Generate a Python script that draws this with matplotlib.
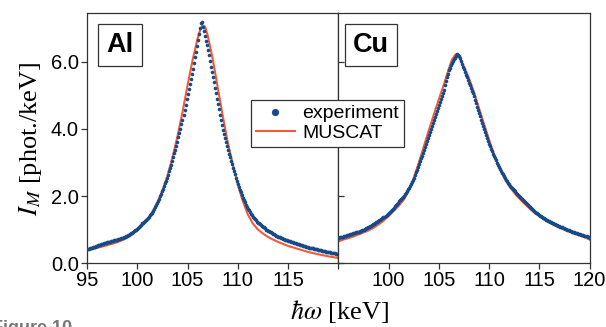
import numpy as np
import matplotlib
matplotlib.use("Agg")
import matplotlib.pyplot as plt

# energy grid of the measured points (keV), 0.1 keV steps
energy = np.round(np.arange(95.0, 120.05, 0.1), 1)

al_experiment = [
    0.42, 0.43, 0.42, 0.44, 0.45, 0.46, 0.47, 0.48, 0.49, 0.50,
    0.52, 0.53, 0.54, 0.55, 0.56, 0.57, 0.58, 0.59, 0.60, 0.61,
    0.62, 0.63, 0.64, 0.64, 0.66, 0.66, 0.67, 0.68, 0.69, 0.69,
    0.70, 0.71, 0.72, 0.73, 0.74, 0.75, 0.76, 0.78, 0.79, 0.80,
    0.82, 0.83, 0.85, 0.87, 0.89, 0.91, 0.93, 0.95, 0.98, 1.00,
    1.02, 1.05, 1.08, 1.11, 1.14, 1.18, 1.20, 1.23, 1.26, 1.29,
    1.32, 1.35, 1.38, 1.42, 1.46, 1.50, 1.55, 1.61, 1.66, 1.72,
    1.78, 1.85, 1.91, 1.99, 2.07, 2.15, 2.22, 2.30, 2.38, 2.46,
    2.55, 2.64, 2.74, 2.84, 2.94, 3.05, 3.16, 3.27, 3.38, 3.50,
    3.62, 3.75, 3.88, 4.01, 4.14, 4.27, 4.42, 4.57, 4.73, 4.89,
    5.05, 5.20, 5.35, 5.50, 5.65, 5.80, 5.97, 6.14, 6.31, 6.48,
    6.65, 6.85, 7.02, 7.15, 7.18, 7.05, 6.92, 6.78, 6.64, 6.50,
    6.36, 6.20, 6.03, 5.86, 5.70, 5.55, 5.39, 5.23, 5.07, 4.91,
    4.75, 4.59, 4.43, 4.27, 4.12, 3.98, 3.85, 3.72, 3.60, 3.48,
    3.37, 3.26, 3.16, 3.05, 2.95, 2.85, 2.75, 2.65, 2.55, 2.45,
    2.35, 2.27, 2.19, 2.11, 2.03, 1.95, 1.88, 1.81, 1.74, 1.68,
    1.62, 1.57, 1.52, 1.47, 1.42, 1.38, 1.34, 1.30, 1.27, 1.23,
    1.20, 1.18, 1.15, 1.13, 1.10, 1.07, 1.06, 1.03, 1.00, 0.98,
    0.96, 0.95, 0.93, 0.92, 0.89, 0.87, 0.87, 0.84, 0.82, 0.82,
    0.79, 0.78, 0.77, 0.76, 0.74, 0.72, 0.72, 0.70, 0.69, 0.68,
    0.66, 0.65, 0.65, 0.63, 0.62, 0.62, 0.60, 0.59, 0.59, 0.57,
    0.56, 0.56, 0.54, 0.54, 0.53, 0.52, 0.52, 0.50, 0.49, 0.49,
    0.47, 0.46, 0.46, 0.45, 0.44, 0.44, 0.42, 0.42, 0.41, 0.41,
    0.40, 0.39, 0.38, 0.38, 0.37, 0.36, 0.36, 0.35, 0.34, 0.34,
    0.33, 0.32, 0.32, 0.31, 0.31, 0.30, 0.29, 0.29, 0.28, 0.28,
    0.27,
]

cu_experiment = [
    0.75, 0.76, 0.77, 0.78, 0.78, 0.79, 0.80, 0.81, 0.82, 0.83,
    0.84, 0.85, 0.86, 0.88, 0.88, 0.89, 0.90, 0.91, 0.92, 0.92,
    0.93, 0.94, 0.96, 0.96, 0.98, 0.99, 1.00, 1.02, 1.03, 1.05,
    1.06, 1.08, 1.10, 1.11, 1.13, 1.15, 1.17, 1.19, 1.21, 1.23,
    1.25, 1.27, 1.29, 1.32, 1.34, 1.36, 1.38, 1.41, 1.43, 1.46,
    1.48, 1.51, 1.55, 1.58, 1.62, 1.65, 1.69, 1.72, 1.76, 1.80,
    1.84, 1.87, 1.90, 1.94, 1.97, 2.00, 2.05, 2.10, 2.15, 2.20,
    2.25, 2.31, 2.37, 2.43, 2.49, 2.55, 2.63, 2.71, 2.79, 2.87,
    2.95, 3.03, 3.12, 3.20, 3.29, 3.37, 3.46, 3.55, 3.64, 3.73,
    3.82, 3.91, 4.00, 4.09, 4.18, 4.27, 4.36, 4.45, 4.54, 4.63,
    4.72, 4.81, 4.90, 4.99, 5.07, 5.16, 5.30, 5.42, 5.55, 5.65,
    5.75, 5.83, 5.90, 5.97, 6.03, 6.08, 6.13, 6.18, 6.24, 6.22,
    6.18, 6.11, 6.02, 5.94, 5.86, 5.78, 5.70, 5.62, 5.54, 5.46,
    5.38, 5.30, 5.22, 5.14, 5.06, 4.98, 4.88, 4.78, 4.67, 4.57,
    4.47, 4.38, 4.28, 4.19, 4.09, 4.00, 3.91, 3.82, 3.73, 3.64,
    3.55, 3.48, 3.40, 3.33, 3.25, 3.18, 3.12, 3.06, 2.99, 2.93,
    2.87, 2.81, 2.76, 2.70, 2.65, 2.59, 2.54, 2.49, 2.44, 2.40,
    2.35, 2.31, 2.28, 2.24, 2.21, 2.17, 2.14, 2.10, 2.07, 2.03,
    2.00, 1.97, 1.94, 1.91, 1.88, 1.85, 1.82, 1.79, 1.76, 1.73,
    1.70, 1.67, 1.64, 1.61, 1.58, 1.55, 1.53, 1.50, 1.48, 1.45,
    1.43, 1.41, 1.39, 1.37, 1.35, 1.33, 1.31, 1.29, 1.28, 1.26,
    1.24, 1.22, 1.21, 1.19, 1.18, 1.16, 1.15, 1.14, 1.12, 1.11,
    1.10, 1.08, 1.07, 1.06, 1.04, 1.03, 1.02, 1.01, 1.00, 0.99,
    0.98, 0.97, 0.95, 0.94, 0.93, 0.92, 0.91, 0.90, 0.89, 0.88,
    0.87, 0.86, 0.85, 0.84, 0.83, 0.82, 0.81, 0.80, 0.78, 0.77,
    0.76,
]

# MUSCAT simulation curves
al_model_e = [95, 96, 97, 98, 99, 100, 100.5, 101, 101.5, 102, 102.5, 103, 103.5,
              104, 104.5, 105, 105.5, 106, 106.25, 106.5, 106.75, 107, 107.5, 108,
              108.5, 109, 109.5, 110, 110.5, 111, 111.5, 112, 112.5, 113, 113.5,
              114, 115, 116, 117, 118, 119, 120]
al_model = [0.38, 0.45, 0.53, 0.62, 0.75, 0.97, 1.12, 1.30, 1.52, 1.80, 2.16, 2.60, 3.15,
            3.78, 4.50, 5.30, 6.05, 6.70, 6.95, 7.10, 7.05, 6.80, 6.10, 5.25,
            4.40, 3.60, 2.95, 2.35, 1.85, 1.45, 1.18, 1.00, 0.88, 0.78, 0.70,
            0.63, 0.51, 0.42, 0.33, 0.26, 0.20, 0.15]

cu_model_e = [95, 95.5, 96, 96.5, 97, 97.5, 98, 98.5, 99, 99.5, 100, 100.5, 101, 101.5,
              102, 102.5, 103, 103.5, 104, 104.5, 105, 105.5, 106, 106.3, 106.6, 106.75,
              107, 107.5, 108, 108.5, 109, 109.5, 110, 110.5, 111, 111.5, 112, 112.5,
              113, 113.5, 114, 114.5, 115, 115.5, 116, 116.5, 117, 117.5, 118, 118.5,
              119, 119.5, 120]
cu_model = [0.64, 0.70, 0.74, 0.79, 0.85, 0.91, 0.97, 1.05, 1.15, 1.26, 1.40, 1.55, 1.70, 1.88,
            2.15, 2.52, 2.98, 3.47, 3.95, 4.42, 4.88, 5.32, 5.80, 6.06, 6.20, 6.24,
            6.16, 5.86, 5.52, 5.10, 4.62, 4.15, 3.68, 3.24, 2.86, 2.55, 2.30, 2.10,
            1.93, 1.78, 1.64, 1.51, 1.40, 1.30, 1.21, 1.13, 1.06, 1.00, 0.94, 0.88,
            0.83, 0.77, 0.70]

panels = ["Al", "Cu"]
x_ticks_left = [95, 100, 105, 110, 115, 120]
x_labels_left = ["95", "100", "105", "110", "115", ""]
x_ticks_right = [100, 105, 110, 115, 120]
y_ticks = [0, 2, 4, 6]
y_labels = ["0.0", "2.0", "4.0", "6.0"]

dot_color = "#184a88"
line_color = "#ef5b3b"
spine_color = "#333333"

plt.rcParams["font.family"] = ["Liberation Sans", "DejaVu Sans"]
plt.rcParams["mathtext.fontset"] = "stix"

fig = plt.figure(figsize=(6.06, 3.27), dpi=100)
gs = fig.add_gridspec(1, 2, left=0.1436, right=0.9728, bottom=0.1957, top=0.960, wspace=0)
ax_al = fig.add_subplot(gs[0, 0])
ax_cu = fig.add_subplot(gs[0, 1], sharey=ax_al)

series = [(ax_al, al_experiment, al_model_e, al_model),
          (ax_cu, cu_experiment, cu_model_e, cu_model)]

for (ax, exp_vals, mod_e, mod_vals), name in zip(series, panels):
    ax.plot(mod_e, mod_vals, color=line_color, lw=1.5, zorder=2, label="MUSCAT")
    ax.plot(energy, exp_vals, ls="none", marker="o", ms=2.6, mew=0,
            color=dot_color, zorder=3, label="experiment")
    ax.set_xlim(95, 120)
    ax.set_ylim(0, 7.46)
    for s in ax.spines.values():
        s.set_color(spine_color)
        s.set_linewidth(0.9)
    ax.text(0.131, 0.872, name, transform=ax.transAxes, ha="center", va="center",
            fontsize=19.5, fontweight="bold",
            bbox=dict(boxstyle="square,pad=0.3", fc="white", ec=spine_color, lw=0.9))
    ax.tick_params(axis="x", direction="out", length=4, width=0.9, color=spine_color,
                   labelsize=14.5, pad=2)

ax_al.set_xticks(x_ticks_left)
ax_al.set_xticklabels(x_labels_left)
ax_al.set_yticks(y_ticks)
ax_al.set_yticklabels(y_labels)
ax_al.tick_params(axis="y", direction="out", length=4, width=0.9, color=spine_color,
                  labelsize=14.5, pad=2)

ax_cu.set_xticks(x_ticks_right)
ax_cu.tick_params(axis="y", direction="in", length=4, width=0.9, color=spine_color,
                  labelleft=False)

handles, labels = ax_al.get_legend_handles_labels()
leg = fig.legend(handles[::-1], labels[::-1], loc="upper left",
                 bbox_to_anchor=(251 / 606, 1 - 100 / 327), borderaxespad=0,
                 fontsize=14, handlelength=2.0, handletextpad=0.4, borderpad=0.25,
                 labelspacing=0.1, fancybox=False, framealpha=1, numpoints=1,
                 markerscale=2.0)
leg.get_frame().set_edgecolor(spine_color)
leg.get_frame().set_linewidth(0.9)

fig.text(0.05, 0.575, r"$I_M$ [phot./keV]", rotation=90, ha="center", va="center",
         fontsize=19, family="Liberation Serif")
fig.text(0.56, 0.048, r"$\hbar\omega$ [keV]", ha="center", va="center",
         fontsize=19, family="Liberation Serif")
# caption is cropped at the bottom edge in the source image as well
fig.text(72 / 606, -0.018, "Figure 10", ha="right", va="baseline",
         fontsize=13, fontweight="bold", color="#777777")

fig.savefig("out.png", dpi=100)
